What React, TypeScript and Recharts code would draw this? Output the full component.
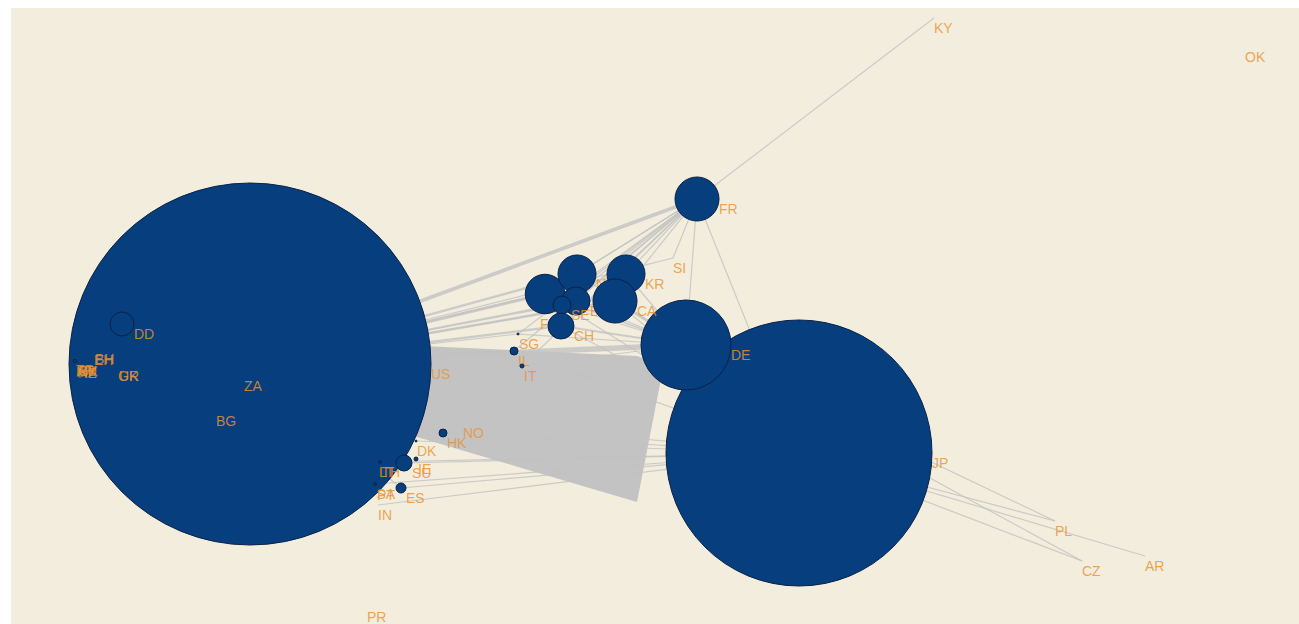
import { ComposedChart, XAxis, YAxis, ZAxis, Scatter, Area, ReferenceLine } from "recharts";

// node layout coordinates (x, y) and node weight (circle area)
const nodes = [
  { id: "US", x: 250, y: 364, w: 327.6 },
  { id: "ZA", x: 244, y: 376, w: 0 },
  { id: "BG", x: 216, y: 411, w: 0 },
  { id: "DD", x: 122, y: 324, w: 1.44 },
  { id: "EH", x: 94, y: 350, w: 0 },
  { id: "BH", x: 95, y: 349, w: 0 },
  { id: "GR", x: 118, y: 366, w: 0 },
  { id: "UK", x: 119, y: 366, w: 0 },
  { id: "AT", x: 75, y: 361, w: 0.03 },
  { id: "MX", x: 76, y: 362, w: 0 },
  { id: "RU", x: 77, y: 361, w: 0 },
  { id: "NZ", x: 78, y: 363, w: 0 },
  { id: "TR", x: 76, y: 360, w: 0 },
  { id: "SK", x: 79, y: 361, w: 0 },
  { id: "JP", x: 799, y: 453, w: 176.9 },
  { id: "DE", x: 686, y: 345, w: 20.25 },
  { id: "FR", x: 697, y: 199, w: 4.84 },
  { id: "GB", x: 545, y: 294, w: 3.9 },
  { id: "NL", x: 577, y: 274, w: 3.61 },
  { id: "FI", x: 540, y: 314, w: 0 },
  { id: "BE", x: 576, y: 301, w: 1.96 },
  { id: "SE", x: 562, y: 305, w: 0.81 },
  { id: "CH", x: 561, y: 326, w: 1.69 },
  { id: "KR", x: 626, y: 274, w: 3.61 },
  { id: "CA", x: 615, y: 301, w: 4.84 },
  { id: "SI", x: 673, y: 258, w: 0 },
  { id: "SG", x: 518, y: 334, w: 0.01 },
  { id: "IL", x: 514, y: 351, w: 0.16 },
  { id: "IT", x: 522, y: 366, w: 0.04 },
  { id: "NO", x: 463, y: 423, w: 0 },
  { id: "HK", x: 443, y: 433, w: 0.16 },
  { id: "DK", x: 416, y: 441, w: 0.01 },
  { id: "LT", x: 379, y: 462, w: 0 },
  { id: "TH", x: 380, y: 462, w: 0.02 },
  { id: "SU", x: 404, y: 463, w: 0.64 },
  { id: "IE", x: 416, y: 459, w: 0.04 },
  { id: "SA", x: 375, y: 484, w: 0.02 },
  { id: "PT", x: 377, y: 485, w: 0 },
  { id: "ES", x: 401, y: 488, w: 0.25 },
  { id: "IN", x: 378, y: 505, w: 0 },
  { id: "PL", x: 1055, y: 521, w: 0 },
  { id: "CZ", x: 1082, y: 561, w: 0 },
  { id: "AR", x: 1145, y: 556, w: 0 },
  { id: "KY", x: 934, y: 18, w: 0 },
  { id: "OK", x: 1245, y: 47, w: 0 },
  { id: "PR", x: 367, y: 607, w: 0 },
];

// edges: [source, target, weight]
const edges: [string, string, number][] = [
  ["US", "FR", 5], ["US", "DE", 8], ["US", "CA", 3], ["US", "KR", 2], ["US", "NL", 3],
  ["US", "GB", 4], ["US", "BE", 2], ["US", "SE", 1], ["US", "CH", 3], ["US", "SG", 1],
  ["US", "IL", 1], ["US", "IT", 2], ["US", "FI", 1], ["US", "SI", 1], ["US", "HK", 1],
  ["US", "NO", 1], ["US", "DK", 1], ["US", "ES", 1],
  ["FR", "KY", 1], ["FR", "DE", 1], ["FR", "JP", 1], ["FR", "GB", 1], ["FR", "NL", 1],
  ["FR", "BE", 1], ["FR", "CH", 1], ["FR", "SE", 1], ["FR", "CA", 1], ["FR", "KR", 1],
  ["FR", "SI", 1], ["FR", "FI", 1], ["FR", "SG", 1], ["FR", "IT", 1], ["FR", "IL", 1],
  ["JP", "PL", 1], ["JP", "CZ", 1], ["JP", "AR", 1], ["DE", "PL", 1], ["DE", "CZ", 1],
  ["JP", "HK", 1], ["JP", "SU", 1], ["JP", "ES", 1], ["JP", "TH", 1], ["JP", "IN", 1],
  ["JP", "DK", 1], ["JP", "NO", 1], ["JP", "SA", 1],
  ["CA", "DE", 3], ["KR", "DE", 1], ["NL", "DE", 1], ["GB", "DE", 2], ["CH", "DE", 2],
  ["BE", "DE", 1], ["GB", "JP", 1], ["CA", "JP", 1], ["CH", "JP", 1], ["SG", "DE", 1],
  ["IT", "DE", 1], ["IL", "JP", 1], ["SE", "DE", 1],
];

// heavy US -> JP flow, drawn as a band [top, bottom]
const flowBand = [
  { x: 400, band: [345, 432] },
  { x: 637, band: [356, 502] },
  { x: 660, band: [364, 384] },
];

const byId: Record<string, { x: number; y: number }> = {};
nodes.forEach((n) => (byId[n.id] = n));

function NodeShape(props: any) {
  const { cx, cy, width, payload } = props;
  const r = (width || 0) / 2;
  return (
    <g>
      {r > 0.6 && (
        <circle cx={cx} cy={cy} r={r} fill="#073E7E" stroke="#0A2246" strokeWidth={1} />
      )}
      <text
        x={cx + r}
        y={cy + 15}
        fontSize={14}
        fontFamily="Liberation Sans, Arial, sans-serif"
        fill="#EA9332"
        fillOpacity={0.82}
      >
        {payload.id}
      </text>
    </g>
  );
}

export default function App() {
  return (
    <div
      style={{
        position: "fixed",
        left: 11,
        top: 8,
        width: 1288,
        height: 616,
        background: "#F2EDDC",
      }}
    >
      <ComposedChart
        width={1288}
        height={616}
        data={flowBand}
        margin={{ top: 0, right: 0, bottom: 0, left: 0 }}
      >
        <XAxis type="number" dataKey="x" domain={[11, 1299]} hide allowDataOverflow />
        <YAxis type="number" dataKey="y" domain={[8, 624]} reversed hide allowDataOverflow />
        <ZAxis type="number" dataKey="w" domain={[0, 400]} range={[0, 125664]} />
        {edges.map(([s, t, w], i) => (
          <ReferenceLine
            key={i}
            segment={[
              { x: byId[s].x, y: byId[s].y },
              { x: byId[t].x, y: byId[t].y },
            ]}
            stroke="#C2C2C2"
            strokeOpacity={0.8}
            strokeWidth={0.6 + w * 0.6}
          />
        ))}
        <Area
          dataKey="band"
          type="linear"
          fill="#C3C3C3"
          fillOpacity={1}
          stroke="none"
          isAnimationActive={false}
        />
        <Scatter data={nodes} shape={NodeShape} isAnimationActive={false} />
      </ComposedChart>
    </div>
  );
}
